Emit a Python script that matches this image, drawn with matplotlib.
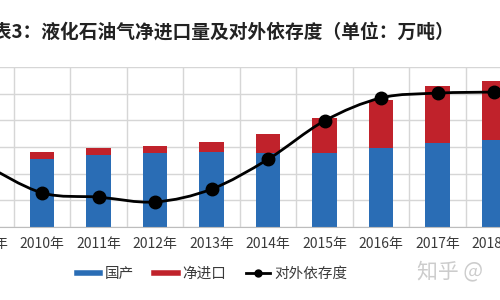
import matplotlib
matplotlib.use("Agg")
import matplotlib.pyplot as plt
from matplotlib.path import Path
from matplotlib.patches import PathPatch
from matplotlib.lines import Line2D
import numpy as np

plt.rcParams['font.family'] = ['Noto Sans CJK SC', 'DejaVu Sans']

# ── Data (万吨, %) ───────────────────────────────────────────────────────────
years = ["2009年", "2010年", "2011年", "2012年", "2013年",
         "2014年", "2015年", "2016年", "2017年", "2018年"]
domestic = [2450, 2550, 2700, 2780, 2810, 2780, 2780, 2950, 3160, 3280]
net_import = [250, 260, 270, 250, 370, 690, 1310, 1810, 2130, 2200]
dependency = [11.6, 6.4, 5.6, 4.7, 7.1, 12.7, 19.9, 24.2, 25.1, 25.3]

BLUE = "#2a6db5"
RED = "#c0222b"
GRID = "#d6d6d6"
TEXT = "#3a3a3a"

W, H = 500, 300
fig = plt.figure(figsize=(5, 3), dpi=100)

# plot area is wider than the image (cropped screenshot)
left_px, right_px = -42.75, 522.25
top_px, bottom_px = 67, 227
ax = fig.add_axes([left_px / W, 1 - bottom_px / H,
                   (right_px - left_px) / W, (bottom_px - top_px) / H])

x = np.arange(len(years))
ax.bar(x, domestic, width=0.43, color=BLUE, zorder=2)
ax.bar(x, net_import, width=0.43, bottom=domestic, color=RED, zorder=2)

ax.set_xlim(-0.5, len(years) - 0.5)
ax.set_ylim(0, 6000)
ax.set_yticks(np.arange(0, 6001, 1000))
ax.set_xticks(x)
ax.set_xticks(x[:-1] + 0.5, minor=True)
ax.set_xticklabels(years, fontsize=10, color=TEXT)
ax.tick_params(axis="x", which="both", length=0, pad=7)
ax.tick_params(axis="y", length=0, labelleft=False)
ax.grid(True, axis="y", color=GRID, linewidth=1)
ax.grid(True, axis="x", which="minor", color=GRID, linewidth=1)
ax.set_axisbelow(True)
for s in ["left", "right", "top"]:
    ax.spines[s].set_visible(False)
ax.spines["bottom"].set_color("#bdbdbd")

# dependency line on hidden secondary axis, smoothed like Excel
ax2 = ax.twinx()
ax2.set_ylim(0, 30)
ax2.axis("off")
pts = np.column_stack([x, dependency])
verts = [pts[0]]
codes = [Path.MOVETO]
n = len(pts)
for i in range(n - 1):
    p0 = pts[max(i - 1, 0)]
    p1 = pts[i]
    p2 = pts[i + 1]
    p3 = pts[min(i + 2, n - 1)]
    c1 = p1 + (p2 - p0) / 6
    c2 = p2 - (p3 - p1) / 6
    verts += [c1, c2, p2]
    codes += [Path.CURVE4] * 3
ax2.add_patch(PathPatch(Path(verts, codes), facecolor="none",
                        edgecolor="black", linewidth=2, zorder=3))
ax2.plot(x, dependency, linestyle="none", marker="o", markersize=9,
         color="black", zorder=4)

# title
fig.text(-25 / W, 1 - 32 / H,
         "图表3：液化石油气净进口量及对外依存度（单位：万吨）",
         fontsize=13.5, fontweight="bold", color="#222222",
         ha="left", va="center")

# legend
handles = [
    Line2D([], [], color=BLUE, linewidth=4),
    Line2D([], [], color=RED, linewidth=4),
    Line2D([], [], color="black", linewidth=2, marker="o", markersize=5),
]
fig.legend(handles, ["国产", "净进口", "对外依存度"],
           loc="center", bbox_to_anchor=(212 / W, 1 - 274 / H),
           ncol=3, frameon=False, fontsize=10.5, labelcolor=TEXT,
           handlelength=1.6, handletextpad=0.3, columnspacing=1.4)

# watermark
fig.text(417 / W, 1 - 271 / H, "知乎 @", fontsize=15, color="#cccccc",
         ha="left", va="center")

fig.savefig("out.png", dpi=100)
